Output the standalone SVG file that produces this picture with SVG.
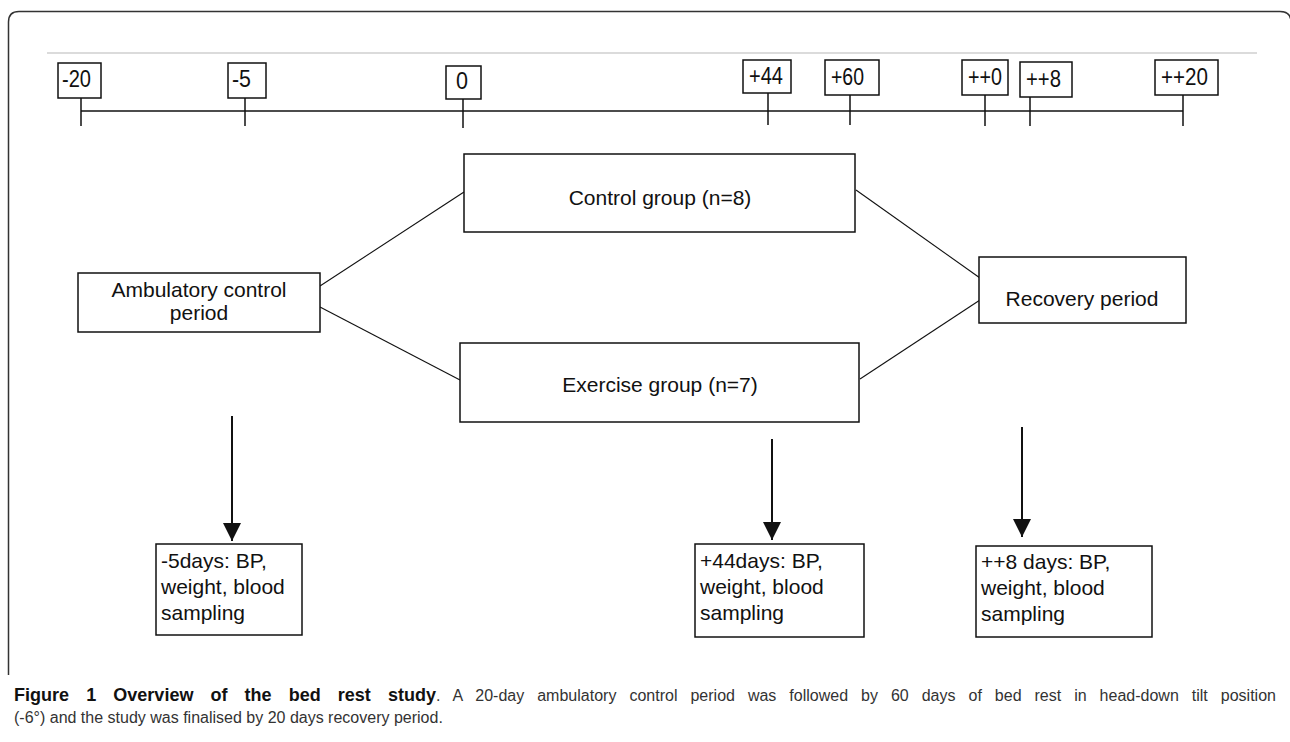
<svg xmlns="http://www.w3.org/2000/svg" width="1290" height="742" viewBox="0 0 1290 742">
<style>
  .box { fill: #fff; stroke: #111; stroke-width: 1.5; }
  .lbl { font-family: "Liberation Sans", Arial, sans-serif; font-size: 21px; fill: #111; }
  .tick { font-family: "Liberation Sans", Arial, sans-serif; font-size: 24px; fill: #111; }
  .mid { text-anchor: middle; }
  .ln { stroke: #111; stroke-width: 1.5; fill: none; }
  .diag { stroke: #111; stroke-width: 1.1; fill: none; }
  .arr { stroke: #111; stroke-width: 2; fill: none; marker-end: url(#head); }
  .cap { font-family: "Liberation Sans", Arial, sans-serif; font-size: 16px; fill: #333; }
  .capb { font-family: "Liberation Sans", Arial, sans-serif; font-size: 18px; font-weight: bold; fill: #111; }
</style>
<defs>
  <marker id="head" markerUnits="userSpaceOnUse" markerWidth="18" markerHeight="18" viewBox="0 0 18 18" refX="18" refY="9" orient="auto">
    <path d="M0,0 L18,9 L0,18 z" fill="#111"/>
  </marker>
</defs>
<rect width="1290" height="742" fill="#fff"/>
<!-- frame -->
<path d="M8.5,675 V22 Q8.5,11.5 19,11.5 H1280 Q1291,11.5 1291,22 V742" fill="none" stroke="#333" stroke-width="1.5"/>
<line x1="47" y1="53" x2="1257" y2="53" stroke="#cfcfcf" stroke-width="1.5"/>

<!-- timeline -->
<g id="timeline">
  <line class="ln" x1="81" y1="111" x2="1183" y2="111"/>
  <line class="ln" x1="81" y1="98" x2="81" y2="126"/>
  <line class="ln" x1="245" y1="98" x2="245" y2="126"/>
  <line class="ln" x1="463" y1="99" x2="463" y2="128"/>
  <line class="ln" x1="768" y1="93" x2="768" y2="125"/>
  <line class="ln" x1="850" y1="95" x2="850" y2="125"/>
  <line class="ln" x1="985" y1="95" x2="985" y2="126"/>
  <line class="ln" x1="1030" y1="97" x2="1030" y2="126"/>
  <line class="ln" x1="1183" y1="95" x2="1183" y2="126"/>
</g>
<g id="t-20"><rect class="box" x="58" y="63" width="43" height="35"/><text class="tick" x="62" y="87" textLength="29" lengthAdjust="spacingAndGlyphs">-20</text></g>
<g id="t-5"><rect class="box" x="228" y="63" width="38" height="35"/><text class="tick" x="232" y="87" textLength="19" lengthAdjust="spacingAndGlyphs">-5</text></g>
<g id="t0"><rect class="box" x="446" y="66" width="35" height="33"/><text class="tick" x="456" y="89" textLength="12" lengthAdjust="spacingAndGlyphs">0</text></g>
<g id="t44"><rect class="box" x="743" y="60" width="48" height="33"/><text class="tick" x="749" y="84" textLength="34" lengthAdjust="spacingAndGlyphs">+44</text></g>
<g id="t60"><rect class="box" x="825" y="60" width="54" height="35"/><text class="tick" x="831" y="85" textLength="33" lengthAdjust="spacingAndGlyphs">+60</text></g>
<g id="tpp0"><rect class="box" x="962" y="60" width="46" height="35"/><text class="tick" x="968" y="85" textLength="34" lengthAdjust="spacingAndGlyphs">++0</text></g>
<g id="tpp8"><rect class="box" x="1020" y="62" width="52" height="35"/><text class="tick" x="1026" y="87" textLength="35" lengthAdjust="spacingAndGlyphs">++8</text></g>
<g id="tpp20"><rect class="box" x="1155" y="60" width="63" height="35"/><text class="tick" x="1161" y="85" textLength="47" lengthAdjust="spacingAndGlyphs">++20</text></g>

<!-- connectors -->
<g id="connectors">
  <line class="diag" x1="320" y1="286" x2="464" y2="192"/>
  <line class="diag" x1="320" y1="307" x2="460" y2="380"/>
  <line class="diag" x1="856" y1="190" x2="980" y2="278"/>
  <line class="diag" x1="860" y1="379" x2="980" y2="300"/>
  <line class="arr" x1="232" y1="416" x2="232" y2="541"/>
  <line class="arr" x1="772" y1="439" x2="772" y2="540"/>
  <line class="arr" x1="1022" y1="427" x2="1022" y2="537"/>
</g>

<g id="control"><rect class="box" x="464" y="154" width="391" height="78"/><text class="lbl mid" x="660" y="205">Control group (n=8)</text></g>
<g id="ambulatory"><rect class="box" x="78" y="273" width="242" height="59"/><text class="lbl mid" x="199" y="297">Ambulatory control</text><text class="lbl mid" x="199" y="320">period</text></g>
<g id="exercise"><rect class="box" x="460" y="343" width="399" height="79"/><text class="lbl mid" x="660" y="392">Exercise group (n=7)</text></g>
<g id="recovery"><rect class="box" x="979" y="257" width="207" height="66"/><text class="lbl mid" x="1082" y="306">Recovery period</text></g>

<g id="m1"><rect class="box" x="156" y="544" width="146" height="91"/>
  <text class="lbl" x="161" y="568">-5days: BP,</text><text class="lbl" x="161" y="594">weight, blood</text><text class="lbl" x="161" y="620">sampling</text></g>
<g id="m2"><rect class="box" x="695" y="544" width="169" height="93"/>
  <text class="lbl" x="700" y="568">+44days: BP,</text><text class="lbl" x="700" y="594">weight, blood</text><text class="lbl" x="700" y="620">sampling</text></g>
<g id="m3"><rect class="box" x="976" y="546" width="176" height="91"/>
  <text class="lbl" x="981" y="569">++8 days: BP,</text><text class="lbl" x="981" y="595">weight, blood</text><text class="lbl" x="981" y="621">sampling</text></g>

<!-- caption -->
<g id="caption">
  <text class="capb" x="14" y="701" word-spacing="12" textLength="422" lengthAdjust="spacing">Figure 1 Overview of the bed rest study</text>
  <text class="cap" x="436" y="701" word-spacing="8.5" textLength="840" lengthAdjust="spacing">. A 20-day ambulatory control period was followed by 60 days of bed rest in head-down tilt position</text>
  <text class="cap" x="14" y="723">(-6°) and the study was finalised by 20 days recovery period.</text>
</g>
</svg>
